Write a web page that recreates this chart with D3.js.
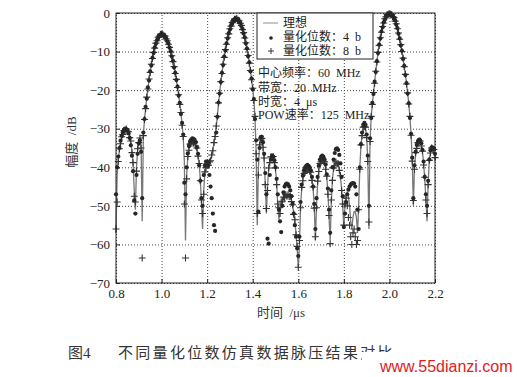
<!DOCTYPE html>
<html>
<head>
<meta charset="utf-8">
<script src="https://cdn.jsdelivr.net/npm/d3@7"></script>
<style>
body{margin:0;background:#fff;}
svg{font-family:"Liberation Serif","Noto Sans CJK SC",serif;}
text{white-space:pre;}
</style>
</head>
<body>
<div id="chart-area"></div>
<script>
// sample times: 0.8 .. 2.2 us, step 0.005
var tStart=0.8, tStep=0.005;

// ideal pulse-compression output (dB), one row = 0.1 us
var ideal=[
-57,-42,-38,-35.5,-33.7,-32.3,-31.3,-30.7,-30.4,-30.3,-30.5,-31.0,-32.0,-33.5,-35.8,-39.2,-46,-51,-40,-35.5,
-33.3,-32.6,-34.5,-54,-31.5,-27.8,-24.6,-22.0,-19.5,-17.3,-15.25,-13.4,-11.7,-10.3,-9.0,-7.9,-7.1,-6.4,-5.9,-5.6,
-5.5,-5.57,-5.78,-6.13,-6.62,-7.25,-8.02,-8.93,-9.98,-11.2,-12.5,-14.0,-15.6,-17.3,-19.2,-21.3,-23.5,-26.0,-28.8,-32.2,
-38.5,-59,-42,-37.5,-35.3,-34.2,-33.6,-33.4,-33.4,-33.6,-34.2,-35.2,-36.8,-39.2,-43,-49,-56,-46,-41.5,-39.8,
-39.3,-39.2,-38.8,-38,-37,-35.5,-33.8,-31.8,-29.5,-26.6,-23.5,-20.6,-18.0,-15.6,-13.4,-11.4,-9.6,-8.0,-6.5,-5.3,
-4.2,-3.3,-2.6,-2.0,-1.7,-1.5,-1.5,-1.7,-2.1,-2.6,-3.3,-4.2,-5.2,-6.4,-7.8,-9.3,-11.1,-12.9,-15.0,-17.2,
-19.6,-22.5,-27,-36,-55,-40,-34.5,-32.6,-32.8,-34.5,-38,-44,-52,-45,-40.5,-38.5,-37.5,-37.3,-37.5,-38.5,
-40.5,-44,-50,-53.5,-51.5,-49.5,-48.5,-48,-47.6,-47.4,-47.3,-47.3,-47.4,-47.8,-48.6,-50,-51.8,-54,-57,-61,
-66,-60,-50,-45.5,-43.2,-41.8,-41,-40.6,-40.4,-40.4,-40.7,-41.5,-43,-45.5,-50,-59,-50,-44,-40.8,-39.2,
-38.4,-38.1,-38.2,-38.8,-40.2,-42.6,-46.5,-53,-59,-49,-43,-40.5,-39.3,-38.8,-38.8,-39.3,-40.5,-42.5,-45.5,-50,
-56,-50,-47,-46.5,-47.5,-50,-54,-56,-53,-51.5,-51.5,-53,-57,-50,-40,-34.5,-31.5,-29.8,-29.2,-29.8,
-32,-38,-56,-33,-27,-23.5,-20.8,-18,-15.2,-12.6,-10.3,-8.3,-6.5,-4.9,-3.6,-2.5,-1.6,-0.9,-0.5,-0.25,
-0.2,-0.25,-0.45,-0.8,-1.3,-2.0,-2.9,-4.0,-5.3,-6.7,-8.3,-9.9,-11.8,-13.8,-16,-18.3,-20.8,-23.5,-27,-31.5,
-38,-50,-40,-36.5,-34.8,-33.8,-33.4,-33.4,-34.2,-36,-39,-43,-48,-54,-44,-38.5,-36,-35.2,-35.1,-35.6,-37
];

// 8 bit quantisation
var bit8=[
-56,-49,-38.5,-35.2,-33.9,-32.1,-31.5,-30.5,-30.6,-30.1,-30.7,-30.8,-32.3,-33.2,-36.2,-38.8,-47.5,-49,-41,-35.2,
-33.6,-32.4,-35,-63.5,-31.8,-27.6,-24.8,-21.8,-19.7,-17.1,-15.4,-13.3,-11.8,-10.2,-9.1,-7.8,-7.2,-6.3,-6.0,-5.5,
-5.6,-5.5,-5.9,-6.0,-6.7,-7.2,-8.1,-8.9,-10.1,-11.1,-12.6,-13.9,-15.7,-17.2,-19.3,-21.2,-23.7,-25.8,-29.1,-32,
-49.5,-63.5,-43,-37.2,-35.6,-34.0,-33.8,-33.2,-33.6,-33.4,-34.5,-35.0,-37.1,-39,-43.5,-48.5,-52,-47,-41.2,-40.1,
-39.1,-39.5,-38.6,-38.3,-36.8,-35.7,-33.6,-32,-29.3,-26.8,-23.3,-20.8,-17.8,-15.7,-13.3,-11.5,-9.5,-8.1,-6.4,-5.4,
-4.1,-3.4,-2.5,-2.1,-1.6,-1.6,-1.4,-1.8,-2.0,-2.7,-3.2,-4.3,-5.1,-6.5,-7.7,-9.4,-11.0,-13.0,-14.9,-17.3,
-19.5,-22.7,-26.8,-36.5,-52,-42,-34.2,-32.9,-32.5,-34.8,-37.6,-44.5,-50.7,-46,-40.2,-38.8,-37.3,-37.6,-37.2,-38.8,
-40.2,-44.5,-49.5,-50.5,-52,-49,-48.8,-47.7,-47.9,-47.1,-47.5,-47.1,-47.6,-47.5,-48.9,-49.7,-52.2,-53.6,-57.5,-60.5,
-65.9,-59,-50.5,-45.2,-43.5,-41.6,-41.3,-40.4,-40.7,-40.2,-41,-41.3,-43.4,-45.1,-50.6,-58,-50.5,-43.6,-41.1,-39,
-38.6,-37.9,-38.4,-38.6,-40.5,-42.3,-47,-52.5,-59.8,-48.5,-43.4,-40.2,-39.6,-38.6,-39.1,-39.1,-40.8,-42.2,-46,-49.5,
-55,-49.5,-48,-50,-53,-55,-58,-60,-57,-56,-58,-60,-59,-51,-40.5,-34.2,-31.8,-29.6,-29.5,-29.6,
-32.3,-38.5,-54.2,-33.3,-26.8,-23.7,-20.6,-18.2,-15.1,-12.7,-10.2,-8.4,-6.4,-5.0,-3.5,-2.6,-1.5,-1.0,-0.4,-0.3,
-0.2,-0.3,-0.4,-0.9,-1.2,-2.1,-2.8,-4.1,-5.2,-6.8,-8.2,-10.0,-11.7,-13.9,-15.9,-18.4,-20.7,-23.6,-26.8,-31.7,
-38.4,-48.6,-40.5,-36.2,-35.1,-33.6,-33.6,-33.2,-34.5,-35.8,-39.4,-42.6,-48.5,-52,-44.5,-38.2,-36.3,-35,-35.3,-35.4,-37.5
];

// 4 bit quantisation
var bit4=[
-47,-40,-37.2,-35,-33.1,-31.8,-30.9,-30.2,-30,-30.1,-30.4,-31.2,-32.4,-34.3,-37,-41,-48.6,-52,-42,-36.5,
-33.8,-33,-36,-48,-31,-27.5,-24.3,-22.2,-19.3,-17.5,-15.1,-13.6,-11.6,-10.4,-8.9,-8.0,-7.0,-6.5,-5.8,-5.7,
-5.4,-5.6,-5.7,-6.2,-6.5,-7.3,-7.9,-9.0,-9.9,-11.3,-12.4,-14.1,-15.5,-17.4,-19.1,-21.4,-23.3,-26.2,-28.5,-31.5,
-44,-47,-40,-36.4,-34.5,-33.3,-32.8,-32.5,-32.6,-32.9,-33.5,-34.8,-36.5,-39.5,-43.5,-48,-50,-42,-39.5,-38.5,
-38.5,-39.5,-42,-45,-48,-52,-55,-56.5,-31,-26.9,-23.2,-20.9,-17.9,-15.5,-13.5,-11.3,-9.7,-7.9,-6.6,-5.2,
-4.3,-3.2,-2.7,-1.9,-1.8,-1.4,-1.6,-1.6,-2.2,-2.5,-3.4,-4.1,-5.3,-6.3,-7.9,-9.2,-11.2,-12.8,-15.1,-17.0,
-19.8,-22.3,-27.5,-33,-38,-51.5,-35,-32.2,-32.1,-33.5,-36.5,-41.5,-47,-58.5,-59.8,-42,-38,-37,-37.2,-38.2,
-40,-43,-47,-51,-54,-56.8,-50,-46.5,-45,-44.4,-44.2,-44.4,-45,-46,-47.5,-49.5,-52,-55,-58,-61,
-63,-58,-49,-44.5,-42.2,-40.8,-40,-39.6,-39.4,-39.6,-40,-40.8,-42.5,-45,-49.5,-56,-48,-42.5,-39.6,-38,
-37.3,-37,-37.2,-37.9,-39.3,-41.8,-45.5,-51,-57,-46,-40,-38,-36.3,-35.3,-35.1,-35.5,-36.8,-39,-42.5,-47.5,
-55.5,-52,-49,-47,-45.8,-45,-44.5,-44.2,-44.1,-44.2,-45,-47,-51,-56,-40,-34,-31,-29,-28.5,-29,
-31.5,-37,-50,-32.5,-27.2,-23.3,-21,-17.8,-15.3,-12.5,-10.4,-8.2,-6.6,-4.8,-3.7,-2.4,-1.7,-0.8,-0.6,-0.2,
-0.3,-0.2,-0.5,-0.7,-1.4,-1.9,-3.0,-3.9,-5.4,-6.6,-8.4,-9.8,-11.9,-13.7,-16.1,-18.2,-20.9,-23.4,-27.2,-31.3,
-37.5,-48,-39.5,-36,-34.2,-33.2,-32.8,-33,-33.8,-35.5,-38.5,-42.5,-47,-50,-43.5,-38,-35.6,-34.8,-34.9,-35.2,-36.5
];

var xTicks=[0.8,1.0,1.2,1.4,1.6,1.8,2.0,2.2];
var yTicks=[0,-10,-20,-30,-40,-50,-60,-70];
var legendLabels=["理想","量化位数：4  b","量化位数：8  b"];
var notes=["中心频率：60  MHz","带宽：20  MHz","时宽：4  μs","POW速率：125  MHz"];

var W=517, H=377;
var margin={left:116,top:13};
var width=319, height=270;

var svg=d3.select("#chart-area").append("svg")
    .attr("width",W)
    .attr("height",H);

var g=svg.append("g")
    .attr("transform","translate("+margin.left+","+margin.top+")");

var x=d3.scaleLinear().domain([0.8,2.2]).range([0,width]);
var y=d3.scaleLinear().domain([-70,0]).range([height,0]);

function tOf(i){return tStart+i*tStep;}

// grid
g.append("g")
    .attr("transform","translate(0,"+height+")")
    .call(d3.axisBottom(x).tickValues(xTicks).tickSize(-height).tickFormat(""))
    .call(s=>s.select(".domain").remove())
    .selectAll("line").attr("stroke","#444").attr("stroke-dasharray","1,2");
g.append("g")
    .call(d3.axisLeft(y).tickValues(yTicks).tickSize(-width).tickFormat(""))
    .call(s=>s.select(".domain").remove())
    .selectAll("line").attr("stroke","#444").attr("stroke-dasharray","1,2");

// ideal line
var line=d3.line()
    .x((d,i)=>x(tOf(i)))
    .y(d=>y(d));
g.append("path")
    .datum(ideal)
    .attr("fill","none")
    .attr("stroke","#777")
    .attr("stroke-width",1.3)
    .attr("d",line);

// 8 bit: plus markers
g.selectAll(".p8").data(bit8).enter().append("path")
    .attr("class","p8")
    .attr("transform",(d,i)=>"translate("+x(tOf(i))+","+y(d)+")")
    .attr("d","M-3.5,0H3.5M0,-3.5V3.5")
    .attr("stroke","#333")
    .attr("stroke-width",1.1);

// 4 bit: dots
g.selectAll(".p4").data(bit4).enter().append("circle")
    .attr("class","p4")
    .attr("cx",(d,i)=>x(tOf(i)))
    .attr("cy",d=>y(d))
    .attr("r",2.1)
    .attr("fill","#262626");

// axes with inward ticks
var xAxis=g.append("g")
    .attr("transform","translate(0,"+height+")")
    .call(d3.axisBottom(x).tickValues(xTicks).tickSize(-4).tickPadding(6).tickFormat(d3.format(".1f")));
var yAxis=g.append("g")
    .call(d3.axisLeft(y).tickValues(yTicks).tickSize(-4).tickPadding(6)
        .tickFormat(d=>d<0?"\u2212"+(-d):d));
[xAxis,yAxis].forEach(a=>{
    a.attr("font-family",null).attr("font-size",null);
    a.selectAll("line").attr("stroke","#222");
    a.selectAll("text").attr("fill","#222").attr("font-size","13px");
    a.select(".domain").remove();
});

// frame
g.append("rect")
    .attr("width",width).attr("height",height)
    .attr("fill","none").attr("stroke","#222").attr("stroke-width",1);

// legend
var lg=svg.append("g");
lg.append("rect")
    .attr("x",257).attr("y",13).attr("width",116).attr("height",46)
    .attr("fill","#fff").attr("stroke","#222").attr("stroke-width",1);
lg.append("line")
    .attr("x1",263).attr("x2",278).attr("y1",23).attr("y2",23)
    .attr("stroke","#8c8c8c");
lg.append("circle").attr("cx",271).attr("cy",38).attr("r",1.8).attr("fill","#222");
lg.append("path").attr("transform","translate(271,51)").attr("d","M-3,0H3M0,-3V3")
    .attr("stroke","#333");
lg.selectAll(".lt").data(legendLabels).enter().append("text")
    .attr("class","lt")
    .attr("x",283)
    .attr("y",(d,i)=>27+i*14)
    .attr("font-size","12px")
    .attr("fill","#222")
    .text(d=>d);

// parameter notes
svg.selectAll(".nt").data(notes).enter().append("text")
    .attr("class","nt")
    .attr("x",258)
    .attr("y",(d,i)=>[77,92,106,119][i])
    .attr("font-size","12px")
    .attr("fill","#222")
    .text(d=>d);

// axis titles
svg.append("text")
    .attr("x",281).attr("y",317)
    .attr("text-anchor","middle")
    .attr("font-size","13px")
    .attr("fill","#333")
    .text("时间  /μs");
svg.append("text")
    .attr("transform","translate(76,142) rotate(-90)")
    .attr("text-anchor","middle")
    .attr("font-size","13px")
    .attr("fill","#333")
    .text("幅度  /dB");

// caption
svg.append("text")
    .attr("x",68).attr("y",358)
    .attr("font-size","15px")
    .attr("fill","#333")
    .text("图4");
svg.append("text")
    .attr("x",118).attr("y",358)
    .attr("font-size","15px")
    .attr("letter-spacing","2.3px")
    .attr("fill","#333")
    .text("不同量化位数仿真数据脉压结果对比");

// watermark
svg.append("rect")
    .attr("x",362).attr("y",352).attr("width",155).attr("height",25)
    .attr("fill","#fff");
svg.append("text")
    .attr("x",380).attr("y",372)
    .attr("font-family","'Liberation Sans',Arial,sans-serif")
    .attr("font-size","16px")
    .attr("fill","#e0201c")
    .text("www.55dianzi.com");
</script>
</body>
</html>
